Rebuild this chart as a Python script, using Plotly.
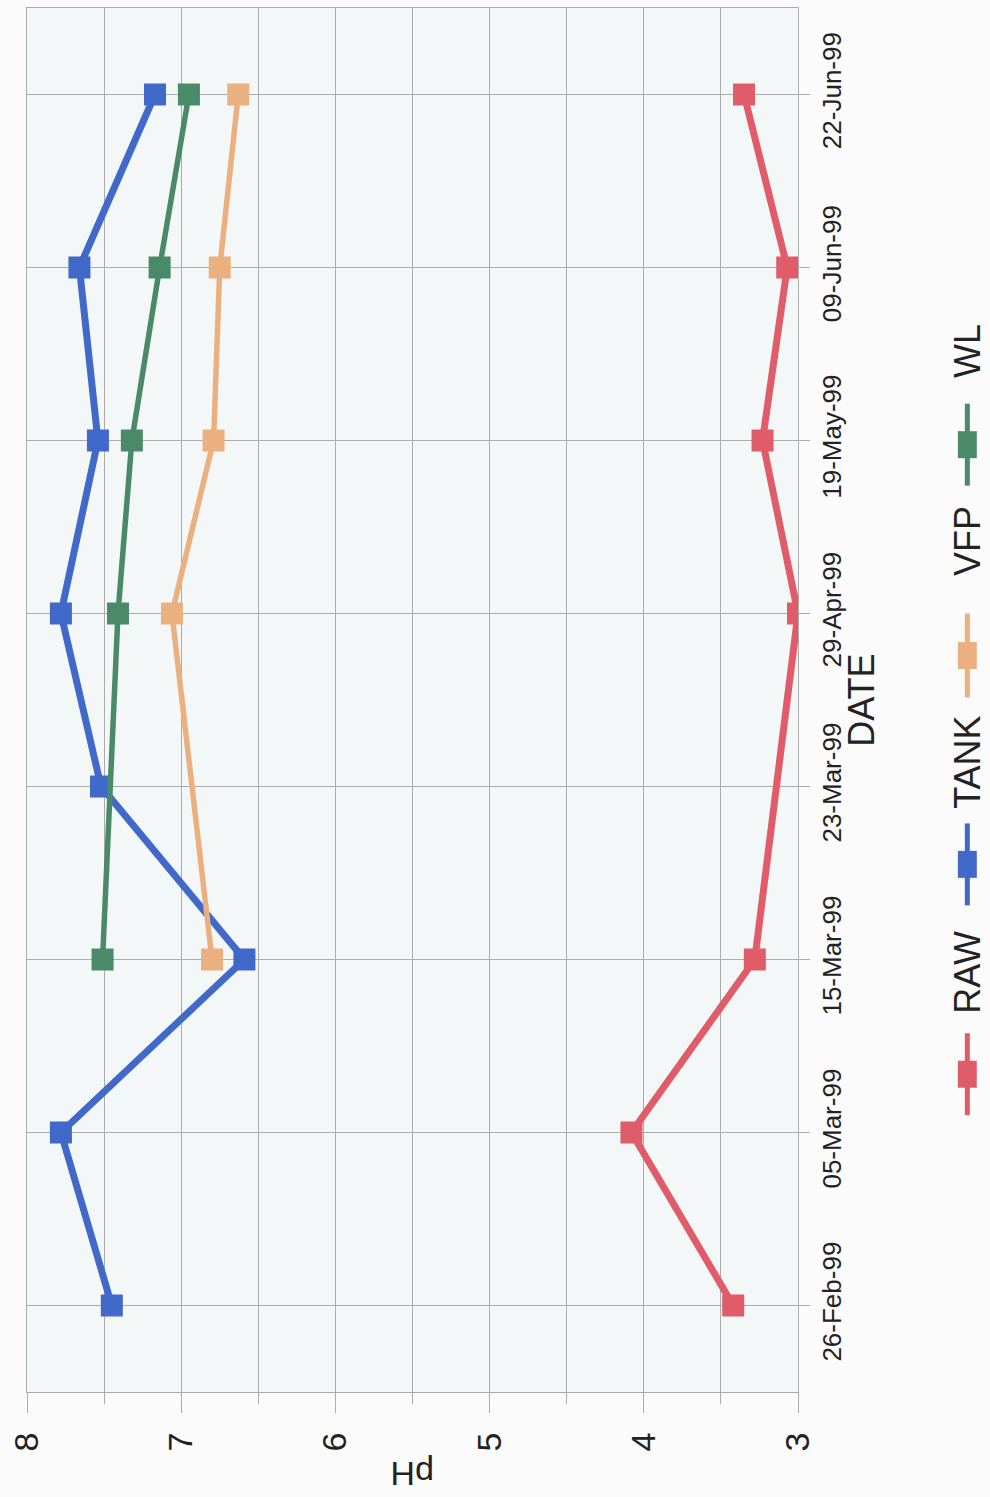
import plotly.graph_objects as go

# Sampling dates (category axis) and pH readings per sampling point
dates = ["26-Feb-99", "05-Mar-99", "15-Mar-99", "23-Mar-99",
         "29-Apr-99", "19-May-99", "09-Jun-99", "22-Jun-99"]
raw = [3.42, 4.08, 3.28, None, 3.00, 3.23, 3.07, 3.35]
tank = [7.45, 7.78, 6.59, 7.52, 7.78, 7.54, 7.66, 7.17]
vfp = [None, None, 6.80, None, 7.06, 6.79, 6.75, 6.63]
wl = [None, None, 7.51, None, 7.41, 7.32, 7.14, 6.95]

series_names = ["RAW", "TANK", "VFP", "WL"]
series_values = [raw, tank, vfp, wl]
series_colors = ["#e05c68", "#4169c9", "#ebb07f", "#4b8a68"]
series_widths = [7, 7, 5.5, 5.5]

ph_ticks = [8, 7, 6, 5, 4, 3]

W, H = 990, 1497
L, R, T, B = 24, 192, 7, 105
FONT = "Liberation Sans, Arial, sans-serif"
GRID = "#ababab"


def px_x(px):
    return (px - L) / (W - L - R)


def px_y(py):
    return (H - B - py) / (H - T - B)


fig = go.Figure()
for name, vals, col, lw in zip(series_names, series_values, series_colors, series_widths):
    fig.add_trace(go.Scatter(
        x=vals, y=dates, name=name, mode="lines+markers",
        connectgaps=True,
        line=dict(color=col, width=lw),
        marker=dict(symbol="square", size=22, color=col),
        showlegend=False,
    ))

fig.update_xaxes(
    range=[8, 3], tickvals=ph_ticks, ticktext=[str(v) for v in ph_ticks],
    tickangle=-90, tickfont=dict(family=FONT, size=34, color="#222"),
    ticks="outside", ticklen=20, tickcolor=GRID, tickwidth=1,
    ticklabelstandoff=6,
    showgrid=True, gridcolor=GRID, gridwidth=1,
    minor=dict(dtick=0.5, showgrid=True, gridcolor=GRID, gridwidth=1,
               ticks="outside", ticklen=11, tickcolor=GRID),
    showline=True, linecolor=GRID, linewidth=1, mirror=True,
    zeroline=False,
)
fig.update_yaxes(
    type="category", categoryorder="array", categoryarray=dates,
    range=[-0.5, len(dates) - 0.5], side="right",
    tickangle=-90, tickfont=dict(family=FONT, size=26, color="#222"),
    ticks="outside", ticklen=11, tickcolor=GRID, tickwidth=1,
    showgrid=True, gridcolor=GRID, gridwidth=1,
    showline=True, linecolor=GRID, linewidth=1, mirror=True,
    zeroline=False,
)

annotations = [
    dict(text="DATE", x=px_x(861), y=0.5, xref="paper", yref="paper",
         textangle=-90, showarrow=False, xanchor="center", yanchor="middle",
         font=dict(family=FONT, size=36, color="#222")),
    dict(text="pH", x=0.5, y=px_y(1474), xref="paper", yref="paper",
         textangle=180, showarrow=False, xanchor="center", yanchor="middle",
         font=dict(family=FONT, size=34, color="#222")),
]

# Legend, laid out along the right edge and read bottom-to-top
shapes = []
legend_x = 968
legend_items = [  # (line bottom, line top, text centre) in pixels
    (1115, 1033, 972),
    (905, 823, 762),
    (697, 613, 540),
    (485, 403, 350),
]
for (yb, yt, yc), name, col in zip(legend_items, series_names, series_colors):
    shapes.append(dict(type="line", xref="paper", yref="paper",
                       x0=px_x(legend_x), x1=px_x(legend_x),
                       y0=px_y(yb), y1=px_y(yt),
                       line=dict(color=col, width=5)))
    ym = (yb + yt) / 2
    shapes.append(dict(type="rect", xref="paper", yref="paper",
                       x0=px_x(legend_x - 9.5), x1=px_x(legend_x + 9.5),
                       y0=px_y(ym + 13.5), y1=px_y(ym - 13.5),
                       fillcolor=col, line=dict(width=0)))
    annotations.append(dict(text=name, x=px_x(legend_x), y=px_y(yc),
                            xref="paper", yref="paper", textangle=-90,
                            showarrow=False, xanchor="center", yanchor="middle",
                            font=dict(family=FONT, size=36, color="#222")))

fig.update_layout(
    width=W, height=H,
    margin=dict(l=L, r=R, t=T, b=B),
    paper_bgcolor="#fbfbfb",
    plot_bgcolor="#f4f7f8",
    annotations=annotations,
    shapes=shapes,
    showlegend=False,
)

fig.write_html("out.html")
